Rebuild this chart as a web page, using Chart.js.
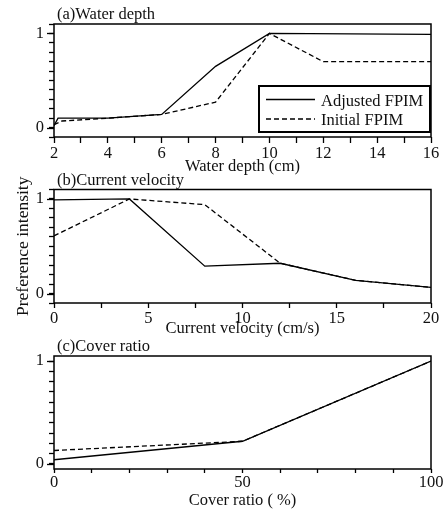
<!DOCTYPE html>
<html lang="en">
<head>
<meta charset="UTF-8">
<title>FPIM preference curves</title>
<script src="https://cdn.jsdelivr.net/npm/chart.js@4.4.0/dist/chart.umd.min.js"></script>
<style>
  body { margin: 0; background: #fff; }
  .wrap { position: relative; width: 444px; height: 511px; }
  .panel { position: absolute; left: 0; width: 444px; }
</style>
</head>
<body>
<div class="wrap">
  <div class="panel" style="top:0;height:180px"><canvas id="chartA"></canvas></div>
  <div class="panel" style="top:165px;height:180px"><canvas id="chartB"></canvas></div>
  <div class="panel" style="top:330px;height:181px"><canvas id="chartC"></canvas></div>
</div>
<script>
// (a) water depth (cm)
const depthAdjX = [2, 2.15, 4, 6, 8, 10, 16];
const depthAdjY = [0.02, 0.10, 0.10, 0.14, 0.65, 1.00, 0.99];
const depthIniX = [2, 2.3, 4, 6, 8, 10, 12, 16];
const depthIniY = [0.03, 0.07, 0.10, 0.14, 0.27, 1.00, 0.70, 0.70];
const depthTickLabels = [2, 4, 6, 8, 10, 12, 14, 16];

// (b) current velocity (cm/s)
const velX = [0, 4, 8, 12, 16, 20];
const velAdjY = [0.99, 1.00, 0.29, 0.32, 0.14, 0.065];
const velIniY = [0.61, 1.00, 0.94, 0.32, 0.14, 0.065];
const velTickLabels = [0, 5, 10, 15, 20];

// (c) cover ratio (%)
const coverX = [0, 50, 100];
const coverAdjY = [0.04, 0.22, 1.00];
const coverIniY = [0.13, 0.22, 1.00];
const coverTickLabels = [0, 50, 100];

const yTickLabels = [0, 1];
const seriesNames = ['Adjusted FPIM', 'Initial FPIM'];

const FONT = "'Liberation Serif', 'Times New Roman', serif";
const INK = '#111';

function toPoints(xs, ys) {
  return xs.map((x, i) => ({ x: x, y: ys[i] }));
}

function hasLabel(list, v) {
  return list.some(t => Math.abs(t - v) < 1e-6);
}

// minor ticks every 0.1 starting from 0, whatever the axis limits are
function tenthTicks(scale) {
  const out = [];
  for (let k = Math.ceil(scale.min * 10 - 1e-6); k <= Math.floor(scale.max * 10 + 1e-6); k++) {
    out.push({ value: k / 10 });
  }
  scale.ticks = out;
}

// border round the plot area, plus the longer ticks at 0 and 1
const framePlugin = {
  id: 'frame',
  afterDraw(chart) {
    const { ctx, chartArea: a, scales } = chart;
    ctx.save();
    ctx.strokeStyle = '#000';
    ctx.lineWidth = 1.5;
    ctx.strokeRect(a.left, a.top, a.right - a.left, a.bottom - a.top);
    ctx.lineWidth = 1.3;
    yTickLabels.forEach(v => {
      const py = Math.round(scales.y.getPixelForValue(v)) + 0.5;
      ctx.beginPath();
      ctx.moveTo(a.left - 7, py);
      ctx.lineTo(a.left, py);
      ctx.stroke();
    });
    ctx.restore();
  }
};

// "(a)Water depth" etc, just above the top left corner
const panelTitlePlugin = {
  id: 'panelTitle',
  afterDraw(chart, args, opts) {
    const { ctx, chartArea: a } = chart;
    ctx.save();
    ctx.font = '16.5px ' + FONT;
    ctx.fillStyle = INK;
    ctx.textBaseline = 'alphabetic';
    ctx.fillText(opts.text, a.left + 3, a.top - 5);
    ctx.restore();
  }
};

// boxed legend in the lower right of panel (a)
const boxLegendPlugin = {
  id: 'boxLegend',
  afterDraw(chart, args, opts) {
    if (!opts.display) return;
    const { ctx, chartArea: a } = chart;
    const w = 171, h = 46;
    const x0 = a.right - w - 1, y0 = a.bottom - h - 5;
    ctx.save();
    ctx.fillStyle = '#fff';
    ctx.fillRect(x0, y0, w, h);
    ctx.strokeStyle = '#000';
    ctx.lineWidth = 2;
    ctx.strokeRect(x0, y0, w, h);
    ctx.font = '16.5px ' + FONT;
    ctx.fillStyle = INK;
    const rows = [
      { name: seriesNames[0], dash: [], ly: 13.5, ty: 20 },
      { name: seriesNames[1], dash: [5, 3], ly: 33, ty: 38.5 }
    ];
    rows.forEach(r => {
      ctx.beginPath();
      ctx.setLineDash(r.dash);
      ctx.lineWidth = 1.3;
      ctx.moveTo(x0 + 7, y0 + r.ly);
      ctx.lineTo(x0 + 56, y0 + r.ly);
      ctx.stroke();
      ctx.fillText(r.name, x0 + 62, y0 + r.ty);
    });
    ctx.restore();
  }
};

function makePanel(id, p) {
  return new Chart(document.getElementById(id), {
    type: 'line',
    data: {
      datasets: [
        {
          label: seriesNames[1],
          data: toPoints(p.iniX, p.iniY),
          borderColor: '#000',
          borderWidth: 1.3,
          borderDash: [5, 3],
          pointRadius: 0,
          tension: 0,
          order: 2
        },
        {
          label: seriesNames[0],
          data: toPoints(p.adjX, p.adjY),
          borderColor: '#000',
          borderWidth: 1.3,
          pointRadius: 0,
          tension: 0,
          order: 1
        }
      ]
    },
    options: {
      responsive: true,
      maintainAspectRatio: false,
      animation: false,
      events: [],
      layout: { padding: { top: p.top, right: 13, left: 0, bottom: 0 } },
      plugins: {
        legend: { display: false },
        tooltip: { enabled: false },
        panelTitle: { text: p.title },
        boxLegend: { display: !!p.legend }
      },
      scales: {
        x: {
          type: 'linear',
          min: p.xMin,
          max: p.xMax,
          afterFit: s => { s.height = p.xAxisH; },
          border: { display: false },
          grid: { drawOnChartArea: false, tickLength: p.xTick, tickColor: '#000', tickWidth: 1.3 },
          ticks: {
            stepSize: p.xStep,
            autoSkip: false,
            maxRotation: 0,
            padding: p.xPad,
            color: INK,
            font: { family: FONT, size: 16.5 },
            callback: v => hasLabel(p.xLabels, v) ? String(v) : ''
          },
          title: {
            display: true,
            text: p.xTitle,
            color: INK,
            font: { family: FONT, size: 16.5 },
            padding: { top: 0, bottom: p.xTitlePad }
          }
        },
        y: {
          min: p.yMin,
          max: p.yMax,
          afterFit: s => { s.width = 54; },
          afterBuildTicks: tenthTicks,
          border: { display: false },
          grid: { drawOnChartArea: false, tickLength: 5, tickColor: '#000', tickWidth: 1.3 },
          ticks: {
            autoSkip: false,
            padding: 5,
            color: INK,
            font: { family: FONT, size: 16.5 },
            callback: v => hasLabel(yTickLabels, v) ? String(Math.round(v)) : ''
          },
          title: {
            display: !!p.yTitle,
            text: p.yTitle || '',
            color: INK,
            font: { family: FONT, size: 17.5 },
            padding: { top: 13, bottom: 0 }
          }
        }
      }
    },
    plugins: [framePlugin, panelTitlePlugin, boxLegendPlugin]
  });
}

makePanel('chartA', {
  title: '(a)Water depth', legend: true,
  adjX: depthAdjX, adjY: depthAdjY, iniX: depthIniX, iniY: depthIniY,
  xMin: 2, xMax: 16, xStep: 1, xLabels: depthTickLabels, xTitle: 'Water depth (cm)',
  yMin: -0.1, yMax: 1.1,
  top: 24, xAxisH: 43, xTick: 6, xPad: 1, xTitlePad: 3
});

makePanel('chartB', {
  title: '(b)Current velocity', yTitle: 'Preference intensity',
  adjX: velX, adjY: velAdjY, iniX: velX, iniY: velIniY,
  xMin: 0, xMax: 20, xStep: 2.5, xLabels: velTickLabels, xTitle: 'Current velocity (cm/s)',
  yMin: -0.1, yMax: 1.1,
  top: 24.5, xAxisH: 42, xTick: 5, xPad: 1, xTitlePad: 6
});

makePanel('chartC', {
  title: '(c)Cover ratio',
  adjX: coverX, adjY: coverAdjY, iniX: coverX, iniY: coverIniY,
  xMin: 0, xMax: 100, xStep: 10, xLabels: coverTickLabels, xTitle: 'Cover ratio ( %)',
  yMin: -0.05, yMax: 1.05,
  top: 26, xAxisH: 42, xTick: 4, xPad: 0, xTitlePad: 0
});
</script>
</body>
</html>
